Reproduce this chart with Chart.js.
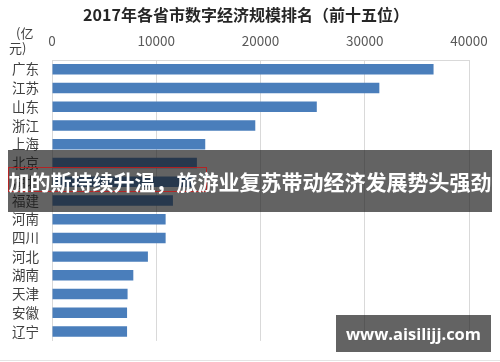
<!DOCTYPE html>
<html>
<head>
<meta charset="utf-8">
<script src="https://cdn.jsdelivr.net/npm/chart.js@4/dist/chart.umd.min.js"></script>
<style>
  html, body { margin: 0; padding: 0; background: #fff; }
  #wrap { position: relative; width: 500px; height: 362px; overflow: hidden; font-family: 'Noto Sans CJK SC', 'Noto Sans', sans-serif; }
  #c { position: absolute; left: 0; top: 0; }
  .banner { position: absolute; left: 8px; top: 150px; width: 484px; height: 62px; background: rgba(22,22,22,0.67); }
  .banner-text { position: absolute; left: 0; top: 150px; width: 500px; height: 62px; line-height: 62px; text-align: center; color: #fff; font-weight: bold; font-size: 21px; white-space: nowrap; }
  .redbox { position: absolute; left: 8px; top: 167px; width: 197px; height: 23px; border: 1px solid rgba(190,30,30,0.9); }
  .mark { position: absolute; left: 336px; top: 315px; width: 155px; height: 37px; line-height: 37px; background: rgba(22,22,22,0.67); color: #fff; font-weight: bold; font-size: 16.5px; text-align: center; font-family: 'Open Sans', 'DejaVu Sans', sans-serif; }
  .edge { position: absolute; left: 0; top: 360px; width: 500px; height: 1px; background: #e4e4e4; }
</style>
</head>
<body>
<div id="wrap">
  <canvas id="c" width="500" height="362"></canvas>
  <div class="banner"></div>
  <div class="redbox"></div>
  <div class="banner-text">加的斯持续升温，旅游业复苏带动经济发展势头强劲</div>
  <div class="mark">www.aisilijj.com</div>
  <div class="edge"></div>
</div>
<script>
const title = '2017年各省市数字经济规模排名（前十五位）'
const unitLines = ['(亿', '元)']

// provinces, top to bottom
const provinces = ['广东', '江苏', '山东', '浙江', '上海', '北京', '湖北', '福建', '河南', '四川', '河北', '湖南', '天津', '安徽', '辽宁']
// 数字经济规模 (亿元)
const scale = [36600, 31400, 25400, 19500, 14700, 13900, 13500, 11600, 10900, 10900, 9200, 7800, 7250, 7200, 7200]
const xTicks = [0, 10000, 20000, 30000, 40000]

const CJK = "'Noto Sans CJK SC', 'Noto Sans', sans-serif"

// title and unit label are drawn by hand so they sit where the original has them
const extras = {
  id: 'extras',
  afterDraw: (chart) => {
    const ctx = chart.ctx
    ctx.save()
    ctx.fillStyle = '#262626'
    ctx.font = `bold 16px ${CJK}`
    ctx.textAlign = 'center'
    ctx.textBaseline = 'middle'
    ctx.fillText(title, 246, 15)
    ctx.fillStyle = '#404040'
    ctx.font = `13px ${CJK}`
    ctx.textAlign = 'left'
    ctx.fillText(unitLines[0], 16, 33)
    ctx.fillText(unitLines[1], 9, 48)
    ctx.restore()
  }
}

const chart = new Chart(document.getElementById('c'), {
  type: 'bar',
  data: {
    labels: provinces,
    datasets: [{
      data: scale,
      backgroundColor: '#4a7ebb',
      borderWidth: 0,
      categoryPercentage: 1,
      barPercentage: 0.56
    }]
  },
  options: {
    indexAxis: 'y',
    responsive: false,
    animation: false,
    layout: { padding: { top: 29, right: 31, bottom: 10, left: 0 } },
    plugins: {
      legend: { display: false },
      tooltip: { enabled: false }
    },
    scales: {
      x: {
        position: 'top',
        min: 0,
        max: 40000,
        afterBuildTicks: (axis) => { axis.ticks = xTicks.map(v => ({ value: v })) },
        afterFit: (axis) => { axis.height = 31 },
        grid: { color: '#d9d9d9', drawTicks: false },
        border: { color: '#d9d9d9' },
        ticks: {
          padding: 11,
          color: '#595959',
          font: { size: 13.5, family: CJK },
          callback: (v) => String(v)
        }
      },
      y: {
        afterFit: (axis) => { axis.width = 52 },
        grid: { display: false, drawTicks: false },
        border: { color: '#d9d9d9' },
        ticks: {
          autoSkip: false,
          padding: 13,
          color: '#404040',
          font: { size: 13.5, family: CJK }
        }
      }
    }
  },
  plugins: [extras]
})
</script>
</body>
</html>
